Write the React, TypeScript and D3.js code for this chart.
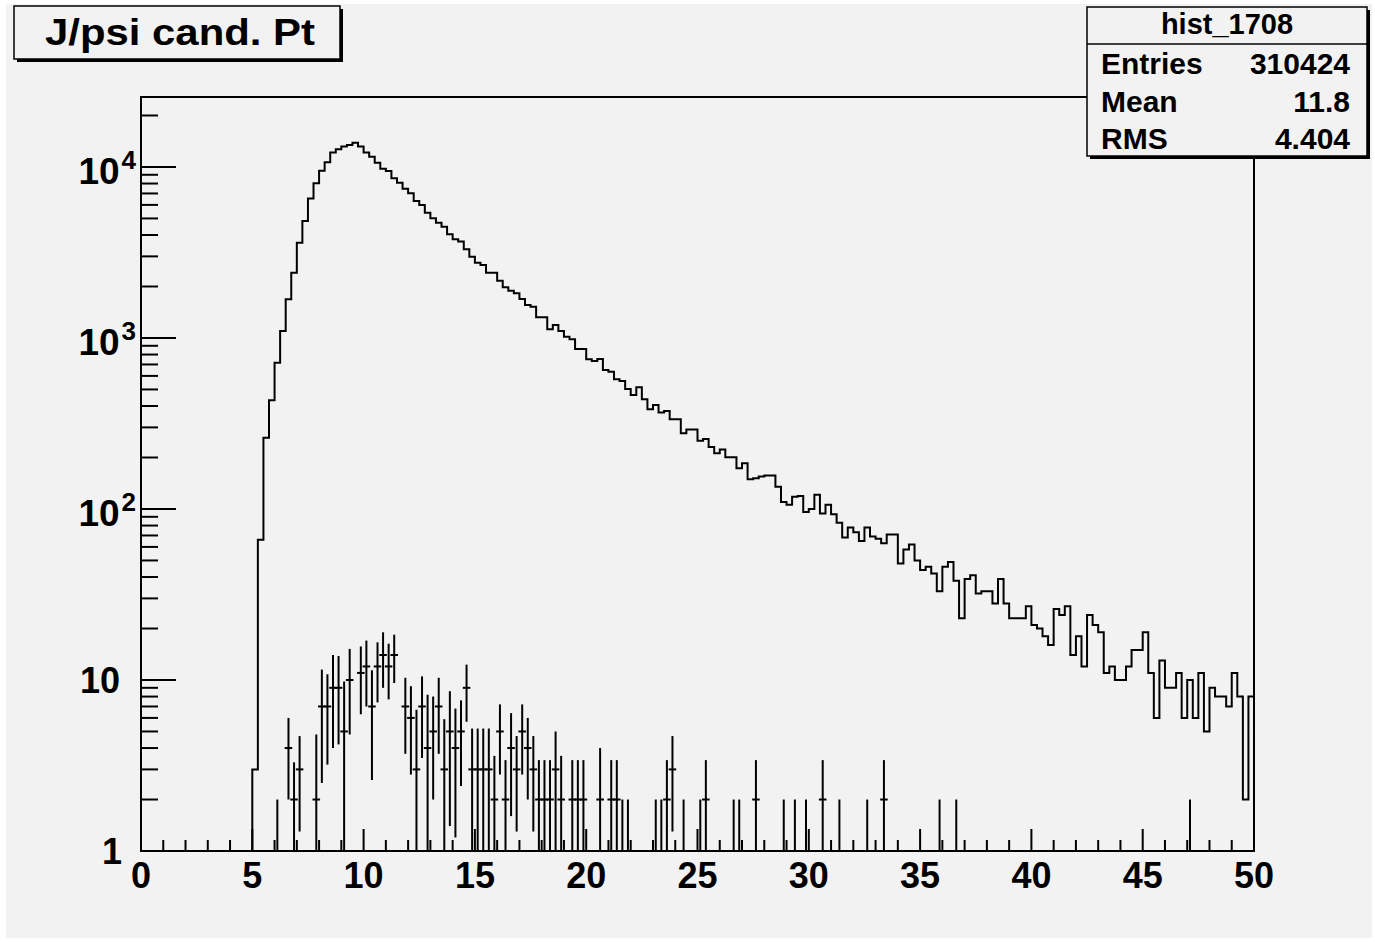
import React from 'react';
import * as d3 from 'd3';

// ---------------- data ----------------
const histTitle = 'J/psi cand. Pt';
const statsName = 'hist_1708';
const statsLabels = ['Entries', 'Mean', 'RMS'];
const statsValues = ['310424', '11.8', '4.404'];

const xMin = 0;
const xMax = 50;
const nBins = 200;

// main histogram: counts per 0.25 GeV bin (bins 0..199)
const mainCounts = [
  0, 0, 0, 0, 0, 0, 0, 0, 0, 0,
  0, 0, 0, 0, 0, 0, 0, 0, 0, 0,
  3, 66, 261, 432, 717, 1098, 1683, 2409, 3607, 4832,
  6530, 8020, 9500, 10640, 12130, 12680, 13150, 13440, 13860, 13150,
  12130, 11490, 10590, 9770, 9480, 8590, 8090, 7460, 7010, 6320,
  5990, 5400, 5010, 4725, 4475, 4040, 3776, 3660, 3303, 2988,
  2756, 2673, 2410, 2410, 2163, 1979, 1890, 1825, 1691, 1560,
  1525, 1321, 1321, 1125, 1191, 1099, 1018, 982, 862, 862,
  751, 733, 754, 650, 635, 573, 561, 503, 464, 515,
  438, 383, 406, 366, 374, 335, 335, 277, 292, 292,
  251, 257, 230, 212, 223, 201, 201, 173, 185, 149,
  151, 155, 157, 157, 135, 110, 106, 118, 119, 96,
  100, 121, 94, 106, 93, 83, 68, 78, 73, 65,
  78, 69, 67, 63, 71, 71, 48, 58, 62, 50,
  44, 46, 42, 33, 46, 49, 38, 23, 39, 41,
  32, 33, 33, 28, 39, 28, 23, 23, 23, 27,
  21, 20, 18, 16, 26, 24, 27, 14, 18, 12,
  24, 21, 19, 11, 12, 10, 10, 12, 15, 15,
  19, 11, 6, 13, 9, 9, 11, 6, 10, 6,
  11, 5, 9, 8, 8, 7, 11, 8, 2, 8,
];

// second histogram drawn with error bars (bin index, content, error)
const candBins = [24, 26, 27, 28, 31, 32, 33, 34, 35, 36, 37, 39, 40, 41, 42, 43, 44, 45, 47, 48, 49, 50, 51, 52, 53, 54, 55, 56, 57, 58, 59, 60, 61, 62, 63, 64, 65, 66, 67, 68, 69, 70, 71, 72, 73, 74, 75, 77, 78, 79, 82, 84, 85, 86, 87, 92, 93, 94, 95, 97, 100, 101, 106, 107, 110, 115, 117, 119, 122, 125, 130, 133, 143, 146, 188];
const candCounts = [1, 4, 2, 3, 2, 7, 7, 9, 9, 5, 10, 11, 12, 7, 12, 14, 12, 14, 7, 6, 3, 7, 4, 5, 7, 3, 5, 4, 5, 9, 3, 3, 3, 3, 2, 5, 2, 4, 3, 5, 4, 3, 2, 2, 2, 3, 2, 2, 2, 2, 2, 2, 2, 1, 1, 1, 1, 2, 3, 1, 1, 2, 1, 1, 2, 1, 1, 1, 2, 1, 1, 2, 1, 1, 1];
const candErrors = [1, 2, 1.3, 1.7, 2.8, 4.5, 3.8, 5, 4.8, 4.8, 5.2, 4.7, 5, 4.4, 4.6, 5, 4.3, 4.4, 3.3, 3.2, 3.7, 3.5, 4.2, 3, 3.3, 2.9, 3.6, 2.8, 2.6, 3.3, 2.2, 2.2, 2.2, 2.2, 1.6, 2.2, 1.4, 2.4, 1.7, 2.2, 2, 1.7, 1.4, 1.4, 1.4, 2, 1.6, 1.4, 1.4, 1.4, 2, 1.4, 1.4, 1, 1, 1, 1, 1.4, 1.7, 1, 1, 1.4, 1, 1, 1.4, 1, 1, 1, 1.4, 1, 1, 1.4, 1, 1, 1];

const xTickLabels = ['0', '5', '10', '15', '20', '25', '30', '35', '40', '45', '50'];
const yDecadeExps = [0, 1, 2, 3, 4];
const yMin = 1;
const yMax = 25650;

// ---------------- layout ----------------
const W = 1375;
const H = 942;
const FL = 141;
const FR = 1254;
const FT = 97;
const FB = 851;
const BG = '#f2f2f2';
const FONT = '"Liberation Sans", Arial, Helvetica, sans-serif';
const INK = '#000';

export default function App() {
  const binW = (xMax - xMin) / nBins;
  const x = d3.scaleLinear().domain([xMin, xMax]).range([FL, FR]);
  const y = d3.scaleLog().domain([yMin, yMax]).range([FB, FT]);

  const edges = d3.range(nBins + 1).map((i) => xMin + i * binW);
  const pts: [number, number][] = mainCounts.map((c, i) => [x(edges[i]), y(Math.max(c, yMin))]);
  pts.push([x(edges[nBins]), y(Math.max(mainCounts[nBins - 1], yMin))]);
  const stepPath = d3.line().curve(d3.curveStepAfter)(pts) || '';

  const xTicks = d3.range(xMin, xMax + 1, 1);
  const yTicks: { v: number; major: boolean }[] = [];
  yDecadeExps.forEach((k) => {
    for (let m = 1; m <= 9; m++) {
      const v = m * Math.pow(10, k);
      if (v <= yMax) yTicks.push({ v, major: m === 1 });
    }
  });

  const errBars = candBins.map((b, i) => {
    const v = candCounts[i];
    const e = candErrors[i];
    const lo = xMin + b * binW;
    const cx = x(lo + binW / 2);
    const cy = y(Math.max(v, yMin));
    const yUp = y(Math.min(v + e, yMax));
    const yLo = v - e > yMin ? y(v - e) : FB;
    return { cx, cy, yUp, yLo, x0: x(lo), x1: x(lo + binW) };
  });

  return (
    <svg
      width={W}
      height={H}
      viewBox={`0 0 ${W} ${H}`}
      style={{ position: 'absolute', left: 0, top: 0, display: 'block' }}
      fontFamily={FONT}
    >
      <rect x={0} y={0} width={W} height={H} fill="#ffffff" />
      <rect x={6} y={4} width={1366} height={934} fill={BG} />
      <defs>
        <clipPath id="frameClip">
          <rect x={FL} y={FT} width={FR - FL} height={FB - FT} />
        </clipPath>
      </defs>

      {/* frame */}
      <rect x={FL} y={FT} width={FR - FL} height={FB - FT} fill={BG} stroke={INK} strokeWidth={2} />

      {/* histograms */}
      <g clipPath="url(#frameClip)">
        <path d={stepPath} fill="none" stroke={INK} strokeWidth={2} />
        {errBars.map((d, i) => (
          <g key={i} stroke={INK} strokeWidth={2}>
            <line x1={d.cx} x2={d.cx} y1={d.yUp} y2={d.yLo} />
            <line x1={d.x0} x2={d.x1} y1={d.cy} y2={d.cy} strokeLinecap="square" />
          </g>
        ))}
      </g>

      {/* x axis ticks */}
      {xTicks.map((t) => (
        <line
          key={'xt' + t}
          x1={x(t)}
          x2={x(t)}
          y1={FB}
          y2={FB - (t % 5 === 0 ? 22 : 11)}
          stroke={INK}
          strokeWidth={2}
        />
      ))}
      {xTickLabels.map((lab) => (
        <text
          key={'xl' + lab}
          x={x(+lab)}
          y={888}
          textAnchor="middle"
          fontSize={36}
          fontWeight="bold"
          fill={INK}
        >
          {lab}
        </text>
      ))}

      {/* y axis ticks */}
      {yTicks.map((t, i) => (
        <line
          key={'yt' + i}
          x1={FL}
          x2={FL + (t.major ? 35 : 17)}
          y1={y(t.v)}
          y2={y(t.v)}
          stroke={INK}
          strokeWidth={2}
        />
      ))}
      {yDecadeExps.map((k) => {
        const ty = y(Math.pow(10, k));
        if (k === 0)
          return (
            <text key={'yl' + k} x={122} y={ty + 13} textAnchor="end" fontSize={36} fontWeight="bold" fill={INK}>
              1
            </text>
          );
        if (k === 1)
          return (
            <text key={'yl' + k} x={120} y={ty + 13} textAnchor="end" fontSize={36} fontWeight="bold" fill={INK}>
              10
            </text>
          );
        return (
          <text key={'yl' + k} x={136} y={ty + 17} textAnchor="end" fontSize={37} fontWeight="bold" fill={INK}>
            10
            <tspan dx={2} dy={-15} fontSize={26}>
              {k}
            </tspan>
          </text>
        );
      })}

      {/* title box */}
      <rect x={17} y={9} width={326} height={53} fill={INK} />
      <rect x={14} y={6} width={326} height={53} fill={BG} stroke={INK} strokeWidth={1.5} />
      <text
        x={180}
        y={45}
        textAnchor="middle"
        fontSize={36}
        fontWeight="bold"
        fill={INK}
        textLength={270}
        lengthAdjust="spacingAndGlyphs"
      >
        {histTitle}
      </text>

      {/* stats box */}
      <rect x={1090} y={10} width={280} height={149} fill={INK} />
      <rect x={1087} y={7} width={280} height={149} fill={BG} stroke={INK} strokeWidth={1.5} />
      <line x1={1087} x2={1367} y1={44} y2={44} stroke={INK} strokeWidth={1.5} />
      <text x={1227} y={34} textAnchor="middle" fontSize={29} fontWeight="bold" fill={INK}>
        {statsName}
      </text>
      {statsLabels.map((lab, i) => (
        <g key={'st' + i}>
          <text x={1101} y={74 + i * 37.5} fontSize={30} fontWeight="bold" fill={INK}>
            {lab}
          </text>
          <text x={1350} y={74 + i * 37.5} textAnchor="end" fontSize={30} fontWeight="bold" fill={INK}>
            {statsValues[i]}
          </text>
        </g>
      ))}
    </svg>
  );
}
